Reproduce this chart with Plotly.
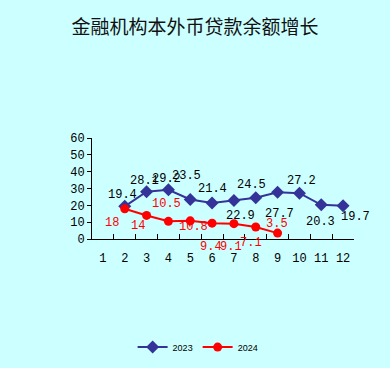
import plotly.graph_objects as go

months = [1, 2, 3, 4, 5, 6, 7, 8, 9, 10, 11, 12]
x2023 = [2, 3, 4, 5, 6, 7, 8, 9, 10, 11, 12]
v2023 = [19.4, 28.1, 29.2, 23.5, 21.4, 22.9, 24.5, 27.7, 27.2, 20.3, 19.7]
x2024 = [2, 3, 4, 5, 6, 7, 8, 9]
v2024 = [18, 14, 10.5, 10.8, 9.4, 9.1, 7.1, 3.5]

# label pixel offsets (style only)
off2023 = [(-2, 11), (-2, 11), (-2, 11), (-4, 23), (0, 14), (7, -16), (-4, 13), (2, -22), (2, 12), (-1, -17), (12, -11)]
off2024 = [(-13, -14), (-9, -11), (-2, 17), (3, -6), (-1, -24), (-3, -23), (-5, -16), (-1, 9)]

BLUE = "#333399"
RED = "#FF0000"
BG = "#CCFFFF"
NUMFONT = "Liberation Mono"

fig = go.Figure()
fig.add_trace(go.Scatter(x=x2023, y=v2023, mode="lines+markers", name="2023",
                         line=dict(color=BLUE, width=2),
                         marker=dict(symbol="diamond", size=10, color=BLUE)))
fig.add_trace(go.Scatter(x=x2024, y=v2024, mode="lines+markers", name="2024",
                         line=dict(color=RED, width=2),
                         marker=dict(symbol="circle", size=9, color=RED)))

anns = []
for xv, yv, (dx, dy) in zip(x2023, v2023, off2023):
    anns.append(dict(x=xv, y=yv, xref="x", yref="y", text=f"{yv:g}", showarrow=False,
                     xshift=dx, yshift=dy, font=dict(family=NUMFONT, size=12, color="black")))
for xv, yv, (dx, dy) in zip(x2024, v2024, off2024):
    anns.append(dict(x=xv, y=yv, xref="x", yref="y", text=f"{yv:g}", showarrow=False,
                     xshift=dx, yshift=dy, font=dict(family=NUMFONT, size=12, color=RED)))

fig.update_layout(
    width=390, height=368,
    paper_bgcolor=BG, plot_bgcolor=BG,
    margin=dict(l=92, r=36, t=138, b=129, autoexpand=False),
    title=dict(text="金融机构本外币贷款余额增长", x=0.5, xanchor="center",
               y=1 - 27 / 368, yanchor="middle", yref="container",
               font=dict(family="Noto Sans CJK SC", size=19, color="#111111")),
    showlegend=True,
    legend=dict(orientation="h", x=0.405, xanchor="center", y=-1.07, yanchor="middle",
                font=dict(family="Liberation Sans", size=9, color="black"),
                bgcolor="rgba(0,0,0,0)", itemwidth=30),
    annotations=anns,
    xaxis=dict(range=[0.5, 12.5], tickmode="array", tickvals=months,
               ticktext=[str(m) for m in months], showgrid=False, zeroline=False,
               showline=True, linecolor="black", linewidth=1,
               ticks="", ticklabelstandoff=8, automargin=False,
               tickfont=dict(family=NUMFONT, size=12, color="black")),
    yaxis=dict(range=[0, 60], tickvals=[0, 10, 20, 30, 40, 50, 60], showgrid=False,
               zeroline=False, showline=True, linecolor="black", linewidth=1,
               ticks="outside", ticklen=4, tickcolor="black", automargin=False,
               tickfont=dict(family=NUMFONT, size=12, color="black")),
)

# minor ticks between categories on the x axis
fig.update_xaxes(minor=dict(tickvals=[m + 0.5 for m in months[:-1]], ticks="inside",
                            ticklen=5, tickcolor="black"))

fig.write_html("out.html", config={"displayModeBar": False},
               post_script="document.body.style.margin='0';document.body.style.overflow='hidden';")
